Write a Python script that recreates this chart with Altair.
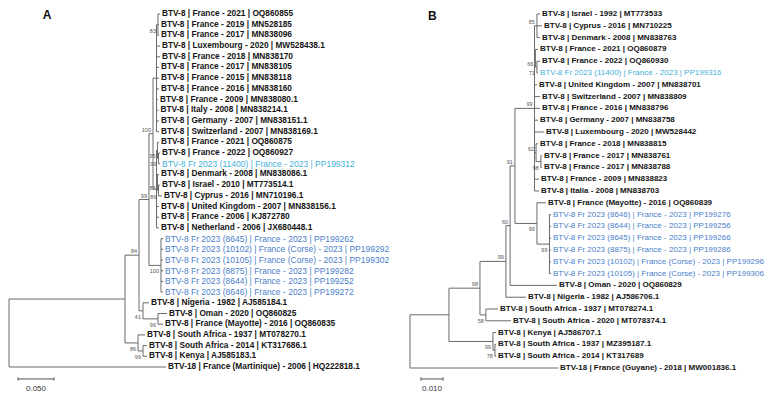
import altair as alt
import pandas as pd

# ---------------- Panel A data ----------------
TIPS_A = [
    "BTV-8 | France - 2021 | OQ860855",
    "BTV-8 | France - 2019 | MN528185",
    "BTV-8 | France - 2017 | MN838096",
    "BTV-8 | Luxembourg - 2020 | MW528438.1",
    "BTV-8 | France - 2018 | MN838170",
    "BTV-8 | France - 2017 | MN838105",
    "BTV-8 | France - 2015 | MN838118",
    "BTV-8 | France - 2016 | MN838160",
    "BTV-8 | France - 2009 | MN838080.1",
    "BTV-8 | Italy - 2008 | MN838214.1",
    "BTV-8 | Germany - 2007 | MN838151.1",
    "BTV-8 | Switzerland - 2007 | MN838169.1",
    "BTV-8 | France - 2021 | OQ860875",
    "BTV-8 | France - 2022 | OQ860927",
    "BTV-8 Fr 2023 (11400) | France - 2023 | PP199312",
    "BTV-8 | Denmark - 2008 | MN838086.1",
    "BTV-8 | Israel - 2010 | MT773514.1",
    "BTV-8 | Cyprus - 2016 | MN710196.1",
    "BTV-8 | United Kingdom - 2007 | MN838156.1",
    "BTV-8 | France - 2006 | KJ872780",
    "BTV-8 | Netherland - 2006 | JX680448.1",
    "BTV-8 Fr 2023 (8645) | France - 2023 | PP199262",
    "BTV-8 Fr 2023 (10102) | France (Corse) - 2023 | PP199292",
    "BTV-8 Fr 2023 (10105) | France (Corse) - 2023 | PP199302",
    "BTV-8 Fr 2023 (8875) | France - 2023 | PP199282",
    "BTV-8 Fr 2023 (8644) | France - 2023 | PP199252",
    "BTV-8 Fr 2023 (8646) | France - 2023 | PP199272",
    "BTV-8 | Nigeria - 1982 | AJ585184.1",
    "BTV-8 | Oman - 2020 | OQ860825",
    "BTV-8 | France (Mayotte) - 2016 | OQ860835",
    "BTV-8 | South Africa - 1937 | MT078270.1",
    "BTV-8 | South Africa - 2014 | KT317686.1",
    "BTV-8 | Kenya | AJ585183.1",
    "BTV-18 | France (Martinique) - 2006 | HQ222818.1",
]
GROUP_A = ["k"] * 14 + ["c"] + ["k"] * 6 + ["b"] * 6 + ["k"] * 7
# tip distances from root (substitutions/site)
TIPX_A = [0.2097, 0.2083, 0.2083, 0.2097, 0.2097, 0.2083, 0.2083, 0.2083,
          0.2069, 0.2076, 0.2083, 0.2083, 0.2083, 0.2097, 0.2097, 0.2083,
          0.2097, 0.2125, 0.2083, 0.2083, 0.2083,
          0.2139, 0.2139, 0.2139, 0.2139, 0.2139, 0.2139,
          0.1944, 0.2194, 0.2139, 0.1889, 0.1917, 0.1917, 0.2181]


def N(x, bs, pos, *kids):
    return {"x": x, "bs": bs, "pos": pos, "kids": list(kids)}


TREE_A = N(0.0, None, "a",
           N(0.1611, None, "a",
             N(0.1806, 84, "a",
               N(0.1944, 99, "a",
                 N(0.2000, 100, "a",
                   N(0.2049, None, "a", N(0.2069, 83, "b", 0, 1, 2), 3, 4, 5, 6, 7, 8, 9, 10, 11),
                   N(0.2049, None, "a", N(0.2063, 95, "b", 12, N(0.2076, 99, "b", 13, 14)),
                     N(0.2063, 85, "b", 15, N(0.2076, 86, "b", 16, 17)), 18, 19, 20)),
                 N(0.2111, 100, "b", 21, 22, 23, 24, 25, 26)),
               N(0.1861, 41, "b", 27, N(0.2069, 96, "b", 28, 29))),
             N(0.1792, 86, "b", 30, N(0.1861, 99, "b", 31, 32))),
           33)

# ---------------- Panel B data ----------------
TIPS_B = [
    "BTV-8 | Israel - 1992 | MT773533",
    "BTV-8 | Cyprus - 2016 | MN710225",
    "BTV-8 | Denmark - 2008 | MN838763",
    "BTV-8 | France - 2021 | OQ860879",
    "BTV-8 | France - 2022 | OQ860930",
    "BTV-8 Fr 2023 (11400) | France - 2023 | PP199316",
    "BTV-8 | United Kingdom - 2007 | MN838701",
    "BTV-8 | Switzerland - 2007 | MN838809",
    "BTV-8 | France - 2016 | MN838796",
    "BTV-8 | Germany - 2007 | MN838758",
    "BTV-8 | Luxembourg - 2020 | MW528442",
    "BTV-8 | France - 2018 | MN838815",
    "BTV-8 | France - 2017 | MN838761",
    "BTV-8 | France - 2017 | MN838788",
    "BTV-8 | France - 2009 | MN838823",
    "BTV-8 | Italia - 2008 | MN838703",
    "BTV-8 | France (Mayotte) - 2016 | OQ860839",
    "BTV-8 Fr 2023 (8646) | France - 2023 | PP199276",
    "BTV-8 Fr 2023 (8644) | France - 2023 | PP199256",
    "BTV-8 Fr 2023 (8645) | France - 2023 | PP199266",
    "BTV-8 Fr 2023 (8875) | France - 2023 | PP199286",
    "BTV-8 Fr 2023 (10102) | France (Corse) - 2023 | PP199296",
    "BTV-8 Fr 2023 (10105) | France (Corse) - 2023 | PP199306",
    "BTV-8 | Oman - 2020 | OQ860829",
    "BTV-8 | Nigeria - 1982 | AJ586706.1",
    "BTV-8 | South Africa - 1937 | MT078274.1",
    "BTV-8 | South Africa - 2020 | MT078374.1",
    "BTV-8 | Kenya | AJ586707.1",
    "BTV-8 | South Africa - 1937 | MZ395187.1",
    "BTV-8 | South Africa - 2014 | KT317689",
    "BTV-18 | France (Guyane) - 2018 | MW001836.1",
]
GROUP_B = ["k"] * 5 + ["c"] + ["k"] * 11 + ["b"] * 6 + ["k"] * 8
TIPX_B = [0.0591, 0.0600, 0.0591, 0.0582, 0.0591, 0.0582, 0.0577, 0.0591,
          0.0591, 0.0582, 0.0609, 0.0582, 0.0600, 0.0600, 0.0586, 0.0586,
          0.0618, 0.0641, 0.0641, 0.0641, 0.0641, 0.0641, 0.0641,
          0.0668, 0.0527, 0.0400, 0.0459, 0.0391, 0.0391, 0.0391, 0.0673]

TREE_B = N(0.0, None, "a",
           N(0.0177, None, "a",
             N(0.0318, 98, "a",
               N(0.0436, 99, "a",
                 N(0.0455, 60, "a",
                   N(0.0477, 91, "a",
                     N(0.0566, 99, "a",
                       N(0.0577, 85, "a", 0, 1, 2),
                       N(0.0570, 66, "b", 3, N(0.0577, 71, "b", 4, 5)),
                       6, 7, 8, 9, 10,
                       N(0.0573, 62, "a", 11, N(0.0595, 98, "b", 12, 13)),
                       14, 15),
                     N(0.0577, 99, "b", 16, N(0.0634, 99, "b", 17, 18, 19, 20, 21, 22))),
                   23),
                 24),
               N(0.0345, 58, "b", 25, 26)),
             N(0.0377, 99, "b", 27, N(0.0386, 78, "b", 28, 29))),
           30)

SCALE_A = [0.0125, 0.0625]   # 0.050
SCALE_B = [0.0050, 0.0150]   # 0.010


def layout(tree, tipx):
    h, v, b = [], [], []

    def rec(node, px):
        if isinstance(node, int):
            h.append({"x": px, "x2": tipx[node], "y": node})
            return node
        ys = [rec(k, node["x"]) for k in node["kids"]]
        y = (ys[0] + ys[-1]) / 2
        v.append({"x": node["x"], "y": ys[0], "y2": ys[-1]})
        if px is not None:
            h.append({"x": px, "x2": node["x"], "y": y})
        if node["bs"] is not None:
            b.append({"x": node["x"], "y": y, "t": str(node["bs"]), "pos": node["pos"]})
        return y

    rec(tree, None)
    return pd.DataFrame(h), pd.DataFrame(v), pd.DataFrame(b)


W, H = 761, 386
LINE = "#6a6a6a"
FONT = "Liberation Sans"
color = alt.Color("g:N", scale=alt.Scale(domain=["k", "c", "b"],
                                         range=["#141414", "#3fb1d6", "#4a80cc"]), legend=None)


def panel(tips, groups, tipx, tree, xdom, ydom, fk, fc, scale, scale_lbl, letter,
          sb_y, st_y, letter_x, letter_y):
    xs = alt.Scale(domain=xdom)
    ys = alt.Scale(domain=ydom, reverse=True)
    X = lambda f: alt.X(f, type="quantitative", scale=xs, axis=None)
    Y = lambda f: alt.Y(f, type="quantitative", scale=ys, axis=None)
    h, v, b = layout(tree, tipx)
    tipdf = pd.DataFrame({"t": tips, "g": groups, "x": tipx, "y": list(range(len(tips)))})
    layers = [
        alt.Chart(h).mark_rule(color=LINE, strokeWidth=1).encode(x=X("x"), x2="x2", y=Y("y")),
        alt.Chart(v).mark_rule(color=LINE, strokeWidth=1).encode(x=X("x"), y=Y("y"), y2="y2"),
        alt.Chart(tipdf[tipdf["g"] == "k"]).mark_text(
            align="left", baseline="middle", dx=2, font=FONT, fontWeight="bold", fontSize=fk).encode(
            x=X("x"), y=Y("y"), text="t:N", color=color),
        alt.Chart(tipdf[tipdf["g"] != "k"]).mark_text(
            align="left", baseline="middle", dx=2, font=FONT, fontWeight="normal", fontSize=fc).encode(
            x=X("x"), y=Y("y"), text="t:N", color=color),
        alt.Chart(b[b["pos"] == "a"]).mark_text(align="right", baseline="middle", dx=-2, dy=-4,
                                                font=FONT, fontSize=5.5, color="#555555").encode(
            x=X("x"), y=Y("y"), text="t:N"),
        alt.Chart(b[b["pos"] == "b"]).mark_text(align="right", baseline="middle", dx=-2, dy=6,
                                                font=FONT, fontSize=5.5, color="#555555").encode(
            x=X("x"), y=Y("y"), text="t:N"),
    ]
    sb = pd.DataFrame({"x": [scale[0]], "x2": [scale[1]], "y": [sb_y]})
    ticks = pd.DataFrame({"x": scale, "y": [sb_y - 0.15] * 2, "y2": [sb_y + 0.15] * 2})
    st = pd.DataFrame({"x": [(scale[0] + scale[1]) / 2], "y": [st_y], "t": [scale_lbl]})
    lt = pd.DataFrame({"x": [letter_x], "y": [letter_y], "t": [letter]})
    layers += [
        alt.Chart(sb).mark_rule(color="#555555", strokeWidth=1).encode(x=X("x"), x2="x2", y=Y("y")),
        alt.Chart(ticks).mark_rule(color="#555555", strokeWidth=1).encode(x=X("x"), y=Y("y"), y2="y2"),
        alt.Chart(st).mark_text(font=FONT, fontSize=8, color="#333333", baseline="middle").encode(
            x=X("x"), y=Y("y"), text="t:N"),
        alt.Chart(lt).mark_text(font=FONT, fontSize=12, fontWeight="bold", color="#111111",
                                baseline="middle").encode(x=X("x"), y=Y("y"), text="t:N"),
    ]
    return layers


layersA = panel(TIPS_A, GROUP_A, TIPX_A, TREE_A, [-0.001389, 1.055556], [-0.5609, 35.524],
                8.3, 8.5, SCALE_A, "0.050", "A", 34.12, 35.06, 0.0528, 0.14)
layersB = panel(TIPS_B, GROUP_B, TIPX_B, TREE_B, [-0.182727, 0.163182], [-0.5085, 32.203],
                8.0, 8.0, SCALE_B, "0.010", "B", 30.93, 31.78, 0.0102, 0.13)

chart = alt.layer(*(layersA + layersB)).resolve_scale(
    x="independent", y="independent"
).properties(
    width=W, height=H, padding=0, autosize=alt.AutoSizeParams(type="none")
).configure_view(strokeWidth=0)

chart.save("out.html", embed_options={"renderer": "svg", "actions": False})
